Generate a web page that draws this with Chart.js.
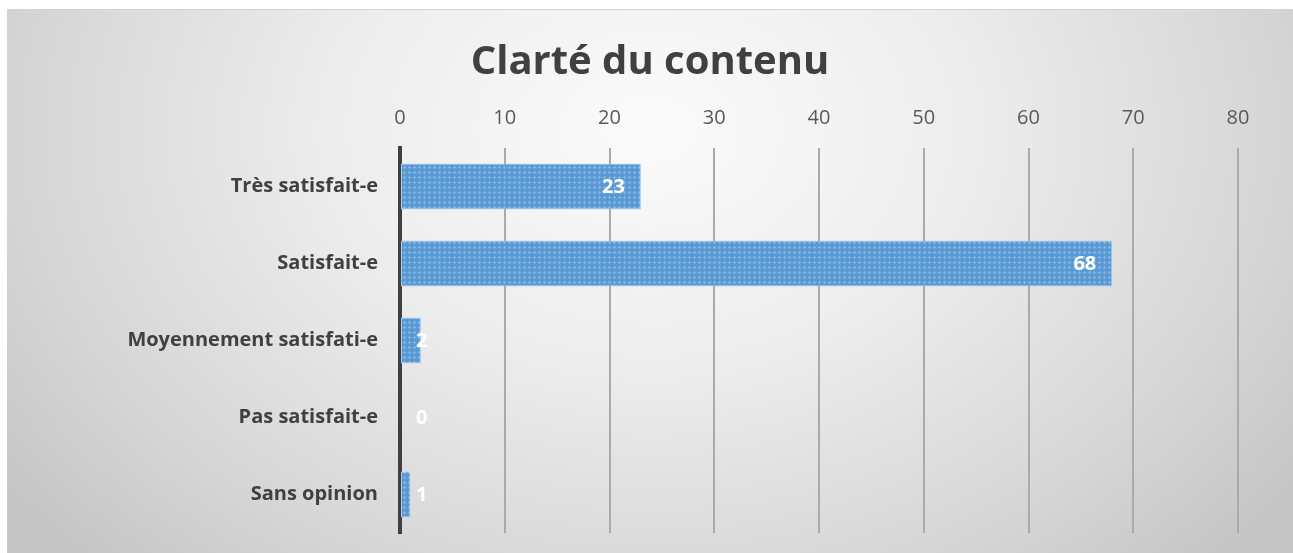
<!DOCTYPE html>
<html lang="fr">
<head>
    <meta charset="UTF-8">
    <title>Clarté du contenu</title>
    <script src="https://cdn.jsdelivr.net/npm/chart.js"></script>
    <style>
        body { margin: 0; background: #fff; }
        .cadre {
            position: absolute;
            left: 7px;
            top: 9px;
            width: 1286px;
            height: 544px;
            border-top: 1px solid #d4d4d4;
            background: radial-gradient(ellipse 62% 110% at 50% 22%, #fbfbfb 0%, #ededed 40%, #d6d6d6 78%, #c6c6c6 100%);
        }
    </style>
</head>
<body>
    <div class="cadre">
        <canvas id="chartBar" width="1286" height="543"></canvas>
    </div>
</body>
</html>
<script>
    const categorias = ['Très satisfait-e', 'Satisfait-e', 'Moyennement satisfati-e', 'Pas satisfait-e', 'Sans opinion']
    const valores = [23, 68, 2, 0, 1]
    const ticksX = [0, 10, 20, 30, 40, 50, 60, 70, 80]

    const fonte = "'Open Sans', 'Noto Sans', sans-serif"

    // motif des barres (petites croix claires sur bleu)
    function criarMotivo() {
        const c = document.createElement('canvas')
        c.width = 5
        c.height = 5
        const g = c.getContext('2d')
        g.fillStyle = '#5b9bd5'
        g.fillRect(0, 0, 5, 5)
        g.fillStyle = '#86b5e2'
        g.fillRect(2, 1, 1, 3)
        g.fillRect(1, 2, 3, 1)
        g.fillStyle = '#4f8fcb'
        g.fillRect(0, 0, 1, 1)
        return g.createPattern(c, 'repeat')
    }

    const rotulos = {
        id: 'rotulos',
        afterDatasetsDraw(chart) {
            const ctx = chart.ctx
            const meta = chart.getDatasetMeta(0)
            const x0 = chart.scales.x.getPixelForValue(0)
            ctx.save()
            ctx.font = "bold 20px " + fonte
            ctx.fillStyle = '#ffffff'
            ctx.textBaseline = 'middle'
            ctx.textAlign = 'center'
            meta.data.forEach((barra, i) => {
                const txt = String(valores[i])
                const w = ctx.measureText(txt).width
                const cx = Math.max(barra.x - 16 - w / 2, x0 + 16 + w / 2)
                ctx.fillText(txt, cx, barra.y + 1)
            })
            ctx.restore()
        }
    }

    const ctx = document.getElementById('chartBar')

    const chart1 = new Chart(ctx, {
        type: 'bar',
        data: {
            labels: categorias,
            datasets: [{
                data: valores,
                backgroundColor: criarMotivo(),
                borderColor: '#a9cbec',
                borderWidth: 1,
                borderSkipped: false,
                barPercentage: 0.6,
                categoryPercentage: 1
            }]
        },
        plugins: [rotulos],
        options: {
            indexAxis: 'y',
            responsive: false,
            animation: false,
            layout: {
                padding: { left: 55, top: 10, right: 55, bottom: 20 }
            },
            plugins: {
                legend: { display: false },
                tooltip: { enabled: false },
                title: {
                    display: true,
                    text: 'Clarté du contenu',
                    color: '#404040',
                    font: { family: fonte, size: 40, weight: 'bold' },
                    padding: { top: 19, bottom: 0 }
                }
            },
            scales: {
                x: {
                    position: 'top',
                    min: 0,
                    max: 80,
                    afterBuildTicks(scale) {
                        scale.ticks = ticksX.map(v => ({ value: v }))
                    },
                    afterFit(scale) {
                        scale.height = 61
                    },
                    border: { display: false },
                    grid: {
                        color: '#aaaaaa',
                        lineWidth: 2,
                        drawTicks: false
                    },
                    ticks: {
                        color: '#595959',
                        padding: 18,
                        font: { family: fonte, size: 20 }
                    }
                },
                y: {
                    afterFit(scale) {
                        scale.width = 338
                        scale.paddingTop = 0
                        scale.paddingBottom = 0
                    },
                    border: { color: '#404040', width: 4 },
                    grid: { display: false, drawTicks: false },
                    ticks: {
                        color: '#404040',
                        padding: 22,
                        font: { family: fonte, size: 20, weight: 'bold' }
                    }
                }
            }
        }
    })
</script>
